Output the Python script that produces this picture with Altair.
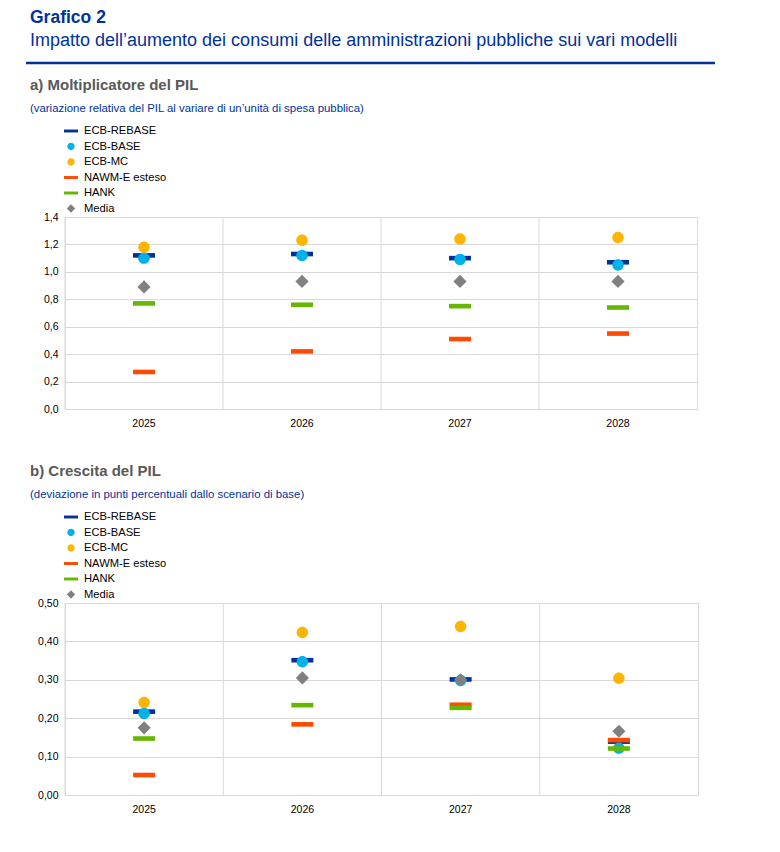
import altair as alt
import pandas as pd

years = ["2025", "2026", "2027", "2028"]
series = ["ECB-REBASE", "ECB-BASE", "ECB-MC", "NAWM-E esteso", "HANK", "Media"]
colors = ["#003299", "#00b1ea", "#ffb400", "#ff4b00", "#65b800", "#808080"]

# a) Moltiplicatore del PIL
mult_rebase = [1.12, 1.13, 1.10, 1.07]
mult_base = [1.10, 1.12, 1.09, 1.05]
mult_mc = [1.18, 1.23, 1.24, 1.25]
mult_nawm = [0.27, 0.42, 0.51, 0.55]
mult_hank = [0.77, 0.76, 0.75, 0.74]
mult_media = [0.89, 0.93, 0.93, 0.93]
mult_ticks = [0.0, 0.2, 0.4, 0.6, 0.8, 1.0, 1.2, 1.4]

# b) Crescita del PIL
gr_rebase = [0.217, 0.351, 0.301, 0.139]
gr_base = [0.212, 0.347, 0.298, 0.122]
gr_mc = [0.241, 0.423, 0.439, 0.304]
gr_nawm = [0.052, 0.184, 0.235, 0.143]
gr_hank = [0.147, 0.234, 0.227, 0.121]
gr_media = [0.175, 0.305, 0.300, 0.166]
gr_ticks = [0.0, 0.1, 0.2, 0.3, 0.4, 0.5]

BAR = "M-1,-0.21L1,-0.21L1,0.21L-1,0.21Z"
CIRCLE = "M-0.52,0A0.52,0.52,0,1,1,0.52,0A0.52,0.52,0,1,1,-0.52,0Z"
DIAMOND = "M0,-0.6L0.6,0L0,0.6L-0.6,0Z"
shapes = [BAR, CIRCLE, CIRCLE, BAR, BAR, DIAMOND]

FONT = "Liberation Sans"
BLUE = "#003299"


def make_df(cols):
    rows = []
    for s, vals in zip(series, cols):
        for y, v in zip(years, vals):
            rows.append({"year": y, "series": s, "value": v})
    return pd.DataFrame(rows)


def legend():
    return alt.Legend(
        orient="none", legendX=-1, legendY=-93, direction="vertical",
        symbolSize=196, symbolStrokeWidth=0, labelFontSize=11.2,
        labelColor="#000000", labelFont=FONT, labelOffset=6, rowPadding=2.5,
        padding=0,
    )


def xaxis(extra):
    if extra:
        return alt.Axis(grid=False, domain=False, ticks=False, tickSize=0,
                        labelAngle=0, labelPadding=9, labelFontSize=10.5,
                        labelColor="#000000", titleOpacity=0, titlePadding=11,
                        titleFontSize=11)
    return alt.Axis(grid=False, domain=False, ticks=False, tickSize=0,
                    labelAngle=0, labelPadding=9, labelFontSize=10.5,
                    labelColor="#000000")


def panel(df, ymax, ticks, fmt, w, title, subtitle, extra):
    xscale = alt.Scale(domain=years, paddingInner=0, paddingOuter=0)
    xtitle = "·" if extra else None
    grid = alt.Chart(pd.DataFrame({"year": years})).mark_rule(
        color="#d9d9d9", strokeWidth=1
    ).encode(x=alt.X("year:N", bandPosition=0, scale=xscale, title=xtitle, axis=xaxis(extra)))
    pts = alt.Chart(df).mark_point(filled=True, opacity=1, size=484, strokeWidth=0).encode(
        x=alt.X("year:N", scale=xscale, title=xtitle, axis=xaxis(extra)),
        y=alt.Y("value:Q", title=None,
                scale=alt.Scale(domain=[0, ymax], nice=False, zero=True),
                axis=alt.Axis(values=ticks, grid=True, gridColor="#d9d9d9", domain=False,
                              ticks=False, tickSize=0, labelPadding=7, labelFontSize=10.5,
                              labelColor="#000000",
                              labelExpr=f"replace(format(datum.value, '{fmt}'), '.', ',')")),
        color=alt.Color("series:N", title=None,
                        scale=alt.Scale(domain=series, range=colors), legend=legend()),
        shape=alt.Shape("series:N", title=None,
                        scale=alt.Scale(domain=series, range=shapes), legend=legend()),
    )
    return alt.layer(grid, pts).properties(
        width=w, height=192,
        title=alt.TitleParams(
            text=title, subtitle=subtitle, anchor="start", frame="group", dx=-35,
            fontSize=15, fontWeight="bold", color="#595959", font=FONT,
            subtitleFontSize=11.4, subtitleColor=BLUE, subtitleFont=FONT,
            subtitlePadding=10, offset=10,
        ),
    )


df_a = make_df([mult_rebase, mult_base, mult_mc, mult_nawm, mult_hank, mult_media])
df_b = make_df([gr_rebase, gr_base, gr_mc, gr_nawm, gr_hank, gr_media])

pa = panel(df_a, 1.4, mult_ticks, ".1f", 632, "a) Moltiplicatore del PIL",
           "(variazione relativa del PIL al variare di un’unità di spesa pubblica)", True)
pb = panel(df_b, 0.5, gr_ticks, ".2f", 633, "b) Crescita del PIL",
           "(deviazione in punti percentuali dallo scenario di base)", False)

header = alt.Chart(pd.DataFrame({"k": [0]})).mark_rule(color=BLUE, strokeWidth=2.5).encode(
    x=alt.value(-39), x2=alt.value(650), y=alt.value(0)
).properties(
    width=632, height=1,
    view=alt.ViewBackground(stroke="transparent"),
    title=alt.TitleParams(
        text="Grafico 2",
        subtitle="Impatto dell’aumento dei consumi delle amministrazioni pubbliche sui vari modelli",
        anchor="start", frame="group", dx=-35, fontSize=17.5, fontWeight="bold",
        color=BLUE, font=FONT, subtitleFontSize=18, subtitleColor=BLUE,
        subtitleFont=FONT, subtitlePadding=5, offset=12,
    ),
)

chart = alt.vconcat(header, pa, pb, spacing=12).resolve_scale(
    color="independent", shape="independent"
).properties(
    padding={"left": 16, "top": 0, "right": 5, "bottom": 5}
).configure(font=FONT).configure_view(stroke="#d9d9d9")

chart.save("out.html", embed_options={"renderer": "svg", "actions": False})
